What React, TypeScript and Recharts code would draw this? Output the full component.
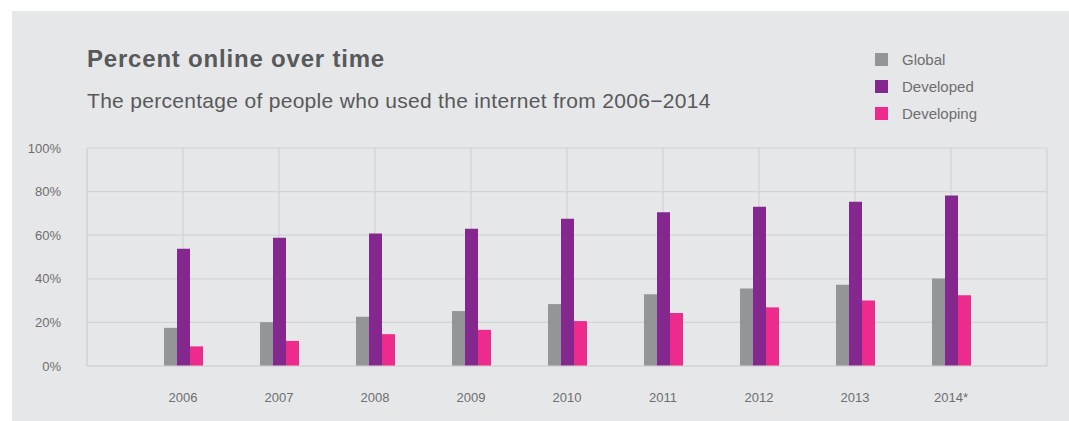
import React from "react";
import { BarChart, Bar, XAxis, YAxis, CartesianGrid, Legend } from "recharts";

const years = ["2006", "2007", "2008", "2009", "2010", "2011", "2012", "2013", "2014*"];
const globalValues = [17.5, 20.1, 22.6, 25.2, 28.4, 32.9, 35.5, 37.3, 40.1];
const developedValues = [53.8, 58.8, 60.8, 63.0, 67.6, 70.5, 73.1, 75.4, 78.2];
const developingValues = [9.0, 11.5, 14.6, 16.6, 20.6, 24.3, 26.9, 30.0, 32.4];
const yTicks = [0, 20, 40, 60, 80, 100];

const seriesNames = ["Global", "Developed", "Developing"];
const seriesColors = ["#939598", "#84278f", "#ec2b8c"];

const data = years.map((y, i) => ({
  year: y,
  Global: globalValues[i],
  Developed: developedValues[i],
  Developing: developingValues[i],
}));

const FONT = '"Liberation Sans", Arial, Helvetica, sans-serif';
const BG = "#e6e7e8";
const GRID = "#d2d3d5";
const TEXT = "#6d6e71";

const renderLegend = () => (
  <div style={{ fontFamily: FONT }}>
    {seriesNames.map((n, i) => (
      <div key={n} style={{ display: "flex", alignItems: "center", height: 27 }}>
        <div style={{ width: 13, height: 13, background: seriesColors[i] }} />
        <span style={{ marginLeft: 14, fontSize: 15, color: TEXT }}>{n}</span>
      </div>
    ))}
  </div>
);

export default function App() {
  return (
    <div style={{ position: "absolute", left: 12, top: 11, width: 1057, height: 410, background: BG }}>
      <svg width={1057} height={120} style={{ position: "absolute", left: 0, top: 0 }}>
        <text x={75} y={56} fontFamily={FONT} fontSize={24} fontWeight="bold" letterSpacing={0.8} fill="#58595b">
          Percent online over time
        </text>
        <text x={75} y={97} fontFamily={FONT} fontSize={21} letterSpacing={0.3} fill="#58595b">
          The percentage of people who used the internet from 2006−2014
        </text>
      </svg>
      <div style={{ position: "absolute", left: 0, top: 0 }}>
        <BarChart
          width={1057}
          height={410}
          data={data}
          margin={{ top: 137, right: 22, bottom: 25, left: 25 }}
          barGap={0}
          barSize={13}
        >
          <CartesianGrid stroke={GRID} strokeWidth={1.2} />
          <XAxis
            dataKey="year"
            padding={{ left: 48, right: 48 }}
            axisLine={{ stroke: GRID }}
            tickLine={false}
            tickSize={0}
            tickMargin={27}
            height={30}
            tick={{ fontSize: 13, fill: TEXT, fontFamily: FONT }}
            interval={0}
          />
          <YAxis
            domain={[0, 100]}
            ticks={yTicks}
            tickFormatter={(v: number) => `${v}%`}
            width={50}
            axisLine={{ stroke: GRID }}
            tickLine={false}
            tickSize={0}
            tickMargin={26}
            tick={{ fontSize: 13, fill: TEXT, fontFamily: FONT }}
          />
          <YAxis
            yAxisId="r"
            orientation="right"
            domain={[0, 100]}
            width={0}
            tick={false}
            tickLine={false}
            axisLine={{ stroke: GRID }}
          />
          <Legend
            layout="vertical"
            align="center"
            verticalAlign="middle"
            content={renderLegend}
            wrapperStyle={{ position: "absolute", left: 863, top: 35, width: 160 }}
          />
          {seriesNames.map((n, i) => (
            <Bar key={n} dataKey={n} fill={seriesColors[i]} isAnimationActive={false} />
          ))}
        </BarChart>
      </div>
    </div>
  );
}
